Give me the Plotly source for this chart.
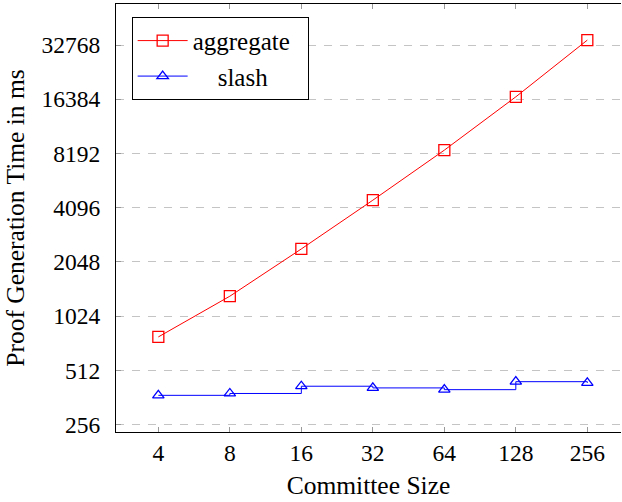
import math
import plotly.graph_objects as go

committee_sizes = [4, 8, 16, 32, 64, 128, 256]
aggregate_ms = [785, 1321, 2418, 4508, 8548, 16900, 34900]
slash_ms = [372, 381, 418, 409, 400, 443, 436]
x_tick_labels = ["4", "8", "16", "32", "64", "128", "256"]
y_tick_values = [256, 512, 1024, 2048, 4096, 8192, 16384, 32768]
y_tick_labels = ["256", "512", "1024", "2048", "4096", "8192", "16384", "32768"]
series_names = ["aggregate\u00a0\u00a0", "\u00a0\u00a0\u00a0\u00a0slash"]

FONT = "Liberation Serif"
RED = "rgb(255,0,0)"
BLUE = "rgb(0,0,255)"

fig = go.Figure()
fig.add_trace(go.Scatter(
    x=committee_sizes, y=aggregate_ms, name=series_names[0], mode="lines+markers",
    line=dict(color=RED, width=1),
    marker=dict(symbol="square-open", size=11, color=RED, line=dict(width=1.3, color=RED)),
))
fig.add_trace(go.Scatter(
    x=committee_sizes, y=slash_ms, name=series_names[1], mode="lines+markers",
    line=dict(color=BLUE, width=1, shape="hv"),
    marker=dict(symbol="triangle-up-open", size=10, color=BLUE, line=dict(width=1.3, color=BLUE)),
))

L2 = math.log10(2)
fig.update_layout(
    width=622, height=502,
    margin=dict(l=116, r=1, t=4, b=70, autoexpand=False),
    paper_bgcolor="white", plot_bgcolor="white",
    font=dict(family=FONT, size=25, color="black"),
    legend=dict(
        x=0.031, y=0.970, xanchor="left", yanchor="top",
        bordercolor="black", borderwidth=1, bgcolor="white",
        font=dict(size=25), tracegroupgap=0, itemwidth=50,
    ),
    xaxis=dict(
        type="log", range=[1.408 * L2, 8.471 * L2],
        tickvals=committee_sizes, ticktext=x_tick_labels,
        ticks="inside", ticklen=5, tickcolor="#999999", tickwidth=1,
        showline=True, linecolor="black", linewidth=1, mirror="ticks",
        showgrid=False, zeroline=False, automargin=False,
        tickfont=dict(size=23.5),
        title=dict(text="Committee Size", standoff=10, font=dict(size=25.5)),
        ticklabelstandoff=0,
    ),
    yaxis=dict(
        type="log", range=[7.863 * L2, 15.757 * L2],
        tickvals=y_tick_values, ticktext=y_tick_labels,
        ticks="inside", ticklen=5, tickcolor="#999999", tickwidth=1,
        showline=True, linecolor="black", linewidth=1, mirror=False,
        showgrid=True, gridcolor="#c4c4c4", gridwidth=1, griddash="8px,8px",
        zeroline=False, automargin=False,
        tickfont=dict(size=23.5),
        title=dict(text="Proof Generation Time in ms", standoff=9, font=dict(size=25.5)),
        ticklabelstandoff=10,
    ),
)

fig.write_html("out.html", config={"displayModeBar": False},
               post_script="document.body.style.margin='0';")
